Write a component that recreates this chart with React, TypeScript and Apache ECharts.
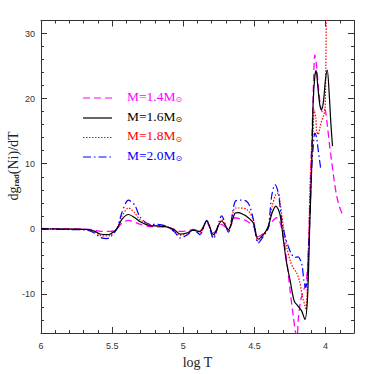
import React, { useEffect, useRef } from "react";
import * as echarts from "echarts";

// ---- data (log T, d g_rad(Ni)/dT) ----
const m14T = [6.0, 5.82, 5.68, 5.62, 5.584, 5.513, 5.467, 5.43, 5.385, 5.303, 5.233, 5.116, 5.06, 5.022, 4.97, 4.929, 4.905, 4.882, 4.835, 4.788, 4.73, 4.683, 4.636, 4.613, 4.554, 4.508, 4.473, 4.426, 4.402, 4.375, 4.344, 4.325, 4.297, 4.274, 4.25, 4.227, 4.21, 4.2, 4.192, 4.175, 4.155, 4.135, 4.12, 4.105, 4.09, 4.075, 4.063, 4.051, 4.035, 4.022, 4.012, 4.0, 3.988, 3.97, 3.958, 3.946, 3.935, 3.923, 3.91, 3.899, 3.883];
const m14V = [0.05, 0, -0.05, -0.2, -0.4, -0.4, 0, 0.9, 1.3, 0.7, 0.35, 0.25, -0.1, -0.4, -0.3, -0.1, -0.2, -0.3, 0.9, -0.6, 0.7, -0.1, 1.7, 1.6, 1.2, 0.4, -1.2, -0.5, 0.2, 1.1, 1.7, 1.3, -1.1, -4.7, -9.3, -13.4, -16, -16.6, -14, -11, -9.5, -8, -3, 8, 18, 26.7, 25, 21.9, 18.8, 18, 18.5, 18, 16, 12.5, 10.5, 8.5, 6.8, 5.2, 4.0, 3.2, 2.3];

const m16T = [6.0, 5.82, 5.68, 5.62, 5.584, 5.537, 5.513, 5.467, 5.43, 5.385, 5.34, 5.303, 5.233, 5.186, 5.116, 5.06, 5.022, 4.97, 4.929, 4.905, 4.882, 4.835, 4.788, 4.73, 4.683, 4.636, 4.613, 4.578, 4.554, 4.508, 4.473, 4.426, 4.402, 4.375, 4.349, 4.32, 4.297, 4.274, 4.25, 4.22, 4.192, 4.168, 4.145, 4.126, 4.11, 4.098, 4.087, 4.075, 4.066, 4.055, 4.04, 4.028, 4.015, 4.0, 3.988, 3.975, 3.962, 3.951];
const m16V = [0, -0.05, -0.1, -0.4, -0.8, -0.9, -0.8, 0, 1.5, 2.2, 1.7, 1.1, 0.5, 0.45, 0.3, -0.2, -0.8, -0.6, -0.2, -0.3, -0.4, 1.2, -0.9, 1.2, -0.1, 2.4, 2.5, 2.2, 1.9, 0.9, -1.6, -0.6, 0.4, 2.5, 3.5, 2.2, -1.6, -5.2, -7.8, -11.1, -11.9, -12.6, -13.9, -10.3, 1.4, 9.1, 19.5, 23.5, 24.3, 22, 19, 18.3, 19.5, 23, 24.4, 21, 16, 12.7];

const m18T = [6.0, 5.82, 5.68, 5.62, 5.584, 5.537, 5.513, 5.467, 5.43, 5.385, 5.34, 5.303, 5.233, 5.186, 5.116, 5.06, 5.022, 4.97, 4.929, 4.905, 4.882, 4.835, 4.788, 4.73, 4.683, 4.636, 4.613, 4.554, 4.508, 4.473, 4.426, 4.402, 4.375, 4.349, 4.332, 4.32, 4.297, 4.274, 4.247, 4.227, 4.204, 4.18, 4.164, 4.145, 4.138, 4.122, 4.105, 4.087, 4.08, 4.068, 4.063, 4.051, 4.04, 4.028, 4.012, 4.003, 3.998, 3.994];
const m18V = [0, -0.05, -0.1, -0.5, -1.0, -1.1, -1.0, 0, 2.0, 3.2, 2.4, 1.4, 0.6, 0.5, 0.3, -0.4, -1.0, -0.7, -0.2, -0.4, -0.6, 1.2, -1.2, 1.4, -0.2, 3.2, 3.2, 3.0, 1.4, -1.9, -0.6, 0.4, 3.5, 5.3, 5.5, 4.2, 0.4, -2.7, -5.0, -6.0, -6.7, -8.3, -10.3, -11.8, -12.4, -4.2, 9.1, 15, 18.3, 17, 15, 14.5, 15.5, 16.5, 17.5, 18.5, 25, 34];

const m20T = [6.0, 5.82, 5.68, 5.62, 5.584, 5.537, 5.513, 5.467, 5.43, 5.385, 5.34, 5.303, 5.233, 5.186, 5.116, 5.06, 5.022, 4.97, 4.929, 4.905, 4.882, 4.835, 4.788, 4.73, 4.683, 4.636, 4.6, 4.56, 4.535, 4.508, 4.473, 4.426, 4.402, 4.379, 4.355, 4.332, 4.309, 4.285, 4.262, 4.239, 4.215, 4.192, 4.175, 4.164, 4.152, 4.14, 4.129, 4.115, 4.098, 4.087, 4.075, 4.063, 4.051, 4.035];
const m20V = [0, -0.1, -0.2, -0.7, -1.3, -1.5, -1.3, 0, 2.6, 4.4, 3.6, 1.8, 0.7, 0.7, 0.4, -0.5, -1.4, -0.9, -0.2, -0.5, -0.9, 1.3, -1.5, 2.0, -0.5, 4.2, 4.4, 4.3, 3.6, 1.5, -2.2, -0.8, 0.2, 5.0, 6.8, 5.5, 1.4, -1.1, -2.7, -3.9, -4.4, -4.3, -4.9, -5.7, -8, -9, -7.8, -1.1, 9.1, 12.5, 14.7, 14, 12, 9.4];

const xMajor = [4, 4.5, 5, 5.5, 6];
const xMinor = [3.9, 4.1, 4.2, 4.3, 4.4, 4.6, 4.7, 4.8, 4.9, 5.1, 5.2, 5.3, 5.4, 5.6, 5.7, 5.8, 5.9];
const yMajor = [-10, 0, 10, 20, 30];
const yMinor = [-14, -12, -8, -6, -4, -2, 2, 4, 6, 8, 12, 14, 16, 18, 22, 24, 26, 28];

const legendNames = ["1.4", "1.6", "1.8", "2.0"];
const colors = ["#ff00ff", "#000000", "#ff0000", "#0000ff"];
const dashes: (number[] | null)[] = [[7, 4], null, [1.5, 1.5], [8, 3, 1.5, 3]];

const GRID = { left: 41, right: 20, top: 20.5, bottom: 40.5 };
const XMIN = 3.8, XMAX = 6, YMIN = -16, YMAX = 32;

function zip(a: number[], b: number[]) {
  return a.map((v, i) => [v, b[i]]);
}

export default function App() {
  const ref = useRef<HTMLDivElement>(null);
  useEffect(() => {
    if (!ref.current) return;
    const chart = echarts.init(ref.current, null, { renderer: "svg" });
    const axisColor = "#333";
    const labelStyle = { fontFamily: "Liberation Sans", fontSize: 9, color: "#333" };
    const mkX = (pos: string, vals: number[], len: number, labels: boolean, line: boolean, extra: any = {}) => ({
      type: "value", position: pos, min: XMIN, max: XMAX, inverse: true,
      axisLine: { show: line, onZero: false, lineStyle: { color: axisColor, width: 1 } },
      axisTick: { show: true, inside: true, length: len, customValues: vals, lineStyle: { color: axisColor, width: 1 } },
      axisLabel: labels ? { show: true, customValues: vals, margin: 8, ...labelStyle } : { show: false },
      splitLine: { show: false },
      ...extra,
    });
    const mkY = (pos: string, vals: number[], len: number, labels: boolean, line: boolean) => ({
      type: "value", position: pos, min: YMIN, max: YMAX,
      axisLine: { show: line, onZero: false, lineStyle: { color: axisColor, width: 1 } },
      axisTick: { show: true, inside: true, length: len, customValues: vals, lineStyle: { color: axisColor, width: 1 } },
      axisLabel: labels ? { show: true, customValues: vals, margin: 6, ...labelStyle } : { show: false },
      splitLine: { show: false },
    });
    const series = [
      zip(m14T, m14V), zip(m16T, m16V), zip(m18T, m18V), zip(m20T, m20V),
    ].map((d, i) => ({
      type: "line",
      data: d,
      smooth: 0.3,
      showSymbol: false,
      clip: true,
      lineStyle: { color: colors[i], width: i === 0 ? 1.3 : 1.2, type: dashes[i] ?? "solid" },
      z: i === 1 ? 5 : 3,
    }));
    const graphics: any[] = [];
    const legendY = [98, 118, 137.5, 157];
    legendNames.forEach((n, i) => {
      graphics.push({
        type: "line",
        shape: { x1: 83, y1: legendY[i], x2: 112, y2: legendY[i] },
        style: { stroke: colors[i], lineWidth: 1.2, lineDash: dashes[i] ?? undefined },
      });
      graphics.push({
        type: "text",
        x: 127, y: legendY[i] - 2,
        style: {
          text: "M=" + n + "M{s|⊙}",
          fill: colors[i],
          font: "13.5px 'Liberation Serif'",
          verticalAlign: "middle",
          rich: { s: { fontSize: 8, fontFamily: "DejaVu Sans", fill: colors[i], padding: [7, 0, 0, 0] } },
        },
      });
    });
    graphics.push({
      type: "text",
      x: 13, y: 166,
      rotation: Math.PI / 2,
      style: {
        text: "dg{s|rad}(Ni)/dT",
        fill: "#222",
        font: "14px 'Liberation Serif'",
        align: "center",
        verticalAlign: "middle",
        rich: { s: { fontSize: 8, fontFamily: "Liberation Sans", fontWeight: "bold", fill: "#222", padding: [7, 0, 0, 0] } },
      },
    });
    chart.setOption({
      animation: false,
      grid: { ...GRID, containLabel: false },
      xAxis: [
        mkX("bottom", xMajor, 6, true, true, {
          name: "log T", nameLocation: "middle", nameGap: 22,
          nameTextStyle: { fontFamily: "Liberation Serif", fontSize: 14, color: "#222" },
        }),
        mkX("bottom", xMinor, 3, false, false),
        mkX("top", xMajor, 6, false, true),
        mkX("top", xMinor, 3, false, false),
      ],
      yAxis: [
        mkY("left", yMajor, 6, true, true),
        mkY("left", yMinor, 3, false, false),
        mkY("right", yMajor, 6, false, true),
        mkY("right", yMinor, 3, false, false),
      ],
      series,
      graphic: graphics,
    });
    return () => chart.dispose();
  }, []);
  return <div ref={ref} style={{ width: 374, height: 374, position: "absolute", left: 0, top: 0, background: "#fff" }} />;
}
